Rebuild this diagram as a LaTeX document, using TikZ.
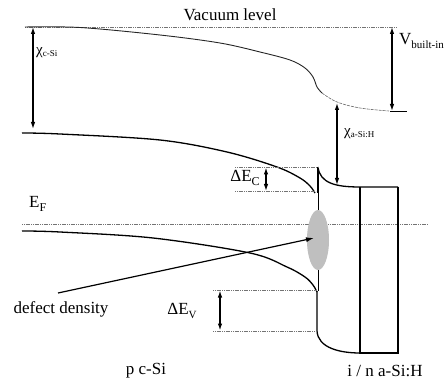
\documentclass[tikz,border=0pt]{standalone}
\usepackage{fontspec}
\setmainfont{Liberation Serif}
\usetikzlibrary{arrows.meta}
\begin{document}
\begin{tikzpicture}[x=1pt,y=-1pt,
  band/.style={line width=1.3pt,black},
  vac/.style={line width=0.9pt,black!85},
  dotline/.style={line width=0.6pt,black!55,dash pattern=on 1.2pt off 0.6pt},
  dim/.style={line width=1.2pt,{Latex[length=7pt,width=4.5pt]}-{Latex[length=7pt,width=4.5pt]}},
  lbl/.style={font=\fontsize{17}{19}\selectfont,inner sep=0pt},
  sub/.style={font=\fontsize{11}{12}\selectfont}
]
\useasboundingbox (0,0) rectangle (445,385);
% reference levels
\coordinate (vacL) at (25,27);
\coordinate (vacR) at (397,27);
\coordinate (efL) at (22,224);
\coordinate (efR) at (428,224);
\draw[dotline] (vacL) -- (vacR);
\draw[dotline] (efL) -- (efR);
% vacuum level curve
\draw[vac] plot[smooth,tension=0.55] coordinates {(25,27) (80,27.5) (160,35) (220,43) (260,52) (290,60) (305,68) (313,77) (317,87) (322,93)};
\draw[line width=0.6pt,black!60,dash pattern=on 3pt off 1pt] plot[smooth,tension=0.6] coordinates {(322,93) (337,102) (360,108) (389,111)};
\coordinate (vbiB) at (392,111);
\coordinate (vbiT) at (392,27);
\draw[line width=0.9pt] (vbiB) ++(-2,0) -- ++(17,0);
% c-Si conduction band
\draw[band] plot[smooth,tension=0.55] coordinates {(22,133) (60,134) (160,140) (227,152) (277,167) (300,178) (310,186) (315,193)};
% c-Si valence band
\coordinate (vtop) at (317,291);
\coordinate (vbot) at (317,331);
\coordinate (rBL) at (360,353);
\draw[band] plot[smooth,tension=0.55] coordinates {(22,231) (60,232) (153,238) (250,253) (287,267) (305,277) (313,285) (317,292)};
\draw[band] (vtop) -- (vbot) .. controls (318,348) and (340,353) .. (rBL);
% interface line
\coordinate (ctop) at (318,167);
\draw[line width=0.6pt] (318,193) -- (318,291);
\draw[band] (ctop) -- (318,193);
% defect ellipse
\fill[black!25] (318,240) ellipse [x radius=11, y radius=30];
% a-Si conduction band and box
\coordinate (rTL) at (360,187);
\coordinate (rTR) at (398,187);
\coordinate (rBR) at (398,353);
\draw[band] (ctop) .. controls (320,183) and (335,187) .. (rTL) -- (rTR);
\draw[band] (rTL) -- (rBL) -- (rBR) -- (rTR);
% offsets dotted lines
\draw[dotline] (235,167) -- (318,167);
\draw[dotline] (235,191) -- (316,191);
\draw[dotline] (213,290) -- (317,290);
\draw[dotline] (213,331) -- (317,331);
% dimension arrows
\draw[dim] (33,27) -- (33,129);
\draw[dim] (vbiT) -- (vbiB);
\draw[dim] (337,103) -- (337,185);
\draw[dim] (266,167.5) -- (266,191);
\draw[dim] (220,290.5) -- (220,330.5);
% defect arrow
\coordinate (defS) at (58,293);
\coordinate (defE) at (314,238);
\draw[line width=1.2pt,-{Latex[length=8pt,width=5pt]}] (defS) -- (defE);
% labels
\node[lbl] (vl) at (230,15) {Vacuum level};
\node[lbl,anchor=west] (chic) at (36,53) {\fontsize{15}{16}\selectfont χ\fontsize{9}{10}\selectfont\raisebox{-0.4ex}{c-Si}};
\node[lbl,anchor=west] (vbi) at (399,41) {V\raisebox{-0.45ex}{\fontsize{11}{12}\selectfont built-in}};
\node[lbl,anchor=west] (chia) at (344,134) {\fontsize{15}{16}\selectfont χ\fontsize{9}{10}\selectfont\raisebox{-0.4ex}{a-Si:H}};
\node[lbl] (dec) at (245,178) {ΔE\raisebox{-0.45ex}{\fontsize{12}{12}\selectfont C}};
\node[lbl,anchor=west] (ef) at (29,204) {E\raisebox{-0.45ex}{\fontsize{12}{12}\selectfont F}};
\node[lbl] (dd) at (61,309) {defect density};
\node[lbl] (dev) at (182,311) {ΔE\raisebox{-0.45ex}{\fontsize{11}{12}\selectfont V}};
\node[lbl] (pc) at (146,371) {p c-Si};
\node[lbl] (in) at (385,371) {i / n a-Si:H};
\end{tikzpicture}
\end{document}
